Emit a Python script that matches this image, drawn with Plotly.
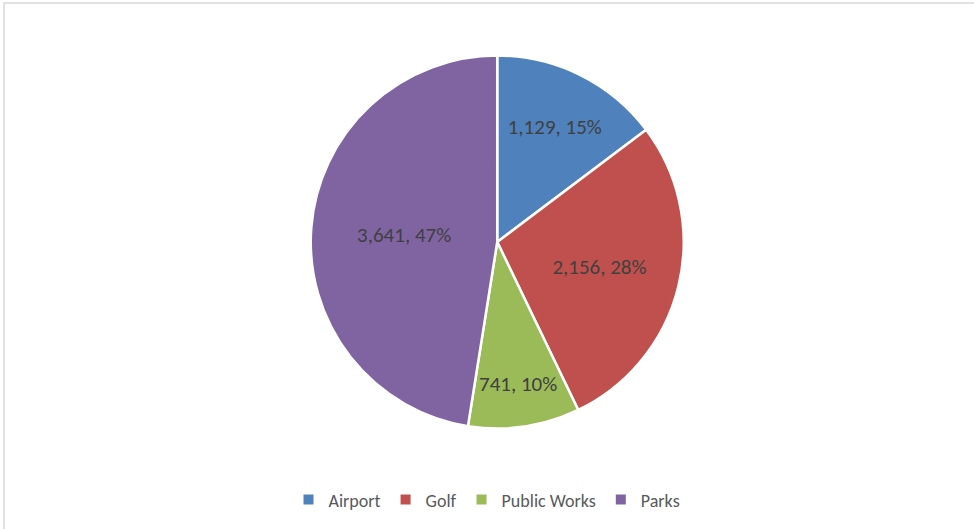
import plotly.graph_objects as go

labels = ["Airport", "Golf", "Public Works", "Parks"]
values = [1129, 2156, 741, 3641]
colors = ["#4F81BD", "#C0504D", "#9BBB59", "#8064A2"]

fig = go.Figure(go.Pie(
    labels=labels,
    values=values,
    sort=False,
    direction="clockwise",
    rotation=0,
    marker=dict(colors=colors, line=dict(color="white", width=2.5)),
    texttemplate="%{value:,}, %{percent:.0%}",
    textposition="inside",
    insidetextorientation="horizontal",
    textfont=dict(family="Carlito, Lato, sans-serif", size=21, color="#404040"),
    domain=dict(x=[0.319, 0.702], y=[0.190, 0.895]),
    hoverinfo="label+value+percent",
))

fig.update_layout(
    width=974, height=529,
    margin=dict(l=0, r=0, t=0, b=0),
    paper_bgcolor="white",
    showlegend=True,
    legend=dict(
        orientation="h", x=0.5, xanchor="center", y=0.055, yanchor="middle",
        font=dict(family="Carlito, Lato, sans-serif", size=18, color="#595959"),
        itemsizing="constant", traceorder="normal", itemwidth=30,
    ),
    shapes=[dict(type="rect", xref="paper", yref="paper",
                 x0=4/974, x1=1.01, y0=-0.01, y1=1 - 3/529,
                 line=dict(color="#D9D9D9", width=1.5))],
)

fig.write_html("out.html", config={"displayModeBar": False},
               post_script="document.body.style.margin='0';")
